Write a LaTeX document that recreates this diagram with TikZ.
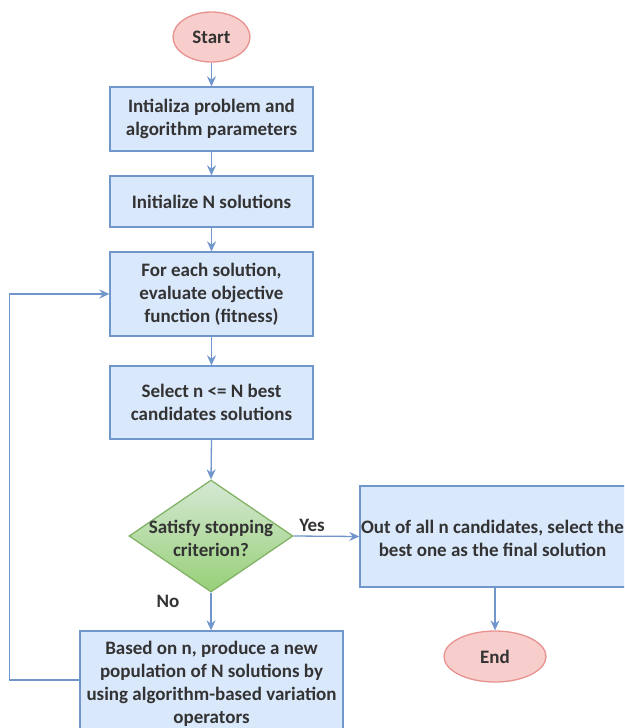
\documentclass[tikz,border=0pt]{standalone}
\usepackage{fontspec}
\setmainfont{Carlito}
\usetikzlibrary{shapes.geometric,arrows.meta}

\definecolor{boxfill}{HTML}{DAE8FC}
\definecolor{boxline}{HTML}{7096CC}
\definecolor{termfill}{HTML}{F8CECC}
\definecolor{termline}{HTML}{E8928F}
\definecolor{decline}{HTML}{82B366}
\definecolor{dectop}{HTML}{D5E8D4}
\definecolor{decbot}{HTML}{97D077}
\definecolor{inktext}{HTML}{333333}

\tikzset{
  txt/.style={font=\bfseries\fontsize{19}{23}\selectfont, text=inktext, align=center},
  procbox/.style={txt, rectangle, draw=boxline, fill=boxfill, line width=1.3pt,
                  inner sep=0pt, minimum width=203pt},
  term/.style={txt, ellipse, draw=termline, fill=termfill, line width=1.3pt, inner sep=0pt},
  flow/.style={draw=boxline, line width=1.3pt, -{Stealth[length=10pt,width=9pt]}},
  plain/.style={txt, inner sep=0pt}
}

\begin{document}
\begin{tikzpicture}[x=1pt,y=-1pt]
  \useasboundingbox (0,0) rectangle (624,728);
  \clip (0,0) rectangle (624,728);
  \fill[white] (0,0) rectangle (624,728);

  % terminals
  \node[term, minimum width=77pt, minimum height=50pt] (start) at (211.5,37) {Start};
  \node[term, minimum width=102pt, minimum height=51pt] (stop) at (495,656.5) {End};

  % main column of steps
  \node[procbox, minimum height=64pt] (init) at (211.5,119)
    {Intializa problem and\\algorithm parameters};
  \node[procbox, minimum height=51pt] (sols) at (211.5,201.5)
    {Initialize N solutions};
  \node[procbox, minimum height=84pt] (eval) at (211.5,294)
    {For each solution,\\evaluate objective\\function (fitness)};
  \node[procbox, minimum height=73pt] (select) at (211.5,402.5)
    {Select n <= N best\\candidates solutions};

  % decision
  \node[diamond, draw=decline, line width=1.3pt, top color=dectop, bottom color=decbot,
        inner sep=0pt, minimum width=164pt, minimum height=112pt] (check) at (211,536) {};
  \node[plain] (checktext) at (211,538) {Satisfy stopping\\criterion?};

  % final choice
  \node[rectangle, draw=boxline, fill=boxfill, line width=1.3pt, inner sep=0pt,
        minimum width=268pt, minimum height=101pt] (best) at (494,536.5) {};
  \node[plain] (besttext) at (492.5,538)
    {Out of all n candidates, select the\\best one as the final solution};

  % new population
  \node[procbox, minimum width=263pt, minimum height=105pt] (newpop) at (211.5,683.5)
    {Based on n, produce a new\\population of N solutions by\\using algorithm-based variation\\operators};

  % branch labels
  \node[plain] (yes) at (312,525) {Yes};
  \node[plain] (no) at (168,601) {No};

  % connectors
  \draw[flow] (start) -- (init);
  \draw[flow] (init) -- (sols);
  \draw[flow] (sols) -- (eval);
  \draw[flow] (eval) -- (select);
  \draw[flow] (select.south) -- (check.north);
  \draw[flow] (check.east) -- (best.west);
  \draw[flow] (check.south) -- (newpop.north -| check.south);
  \draw[flow] (best.south -| stop.north) -- (stop.north);
  \coordinate (loopstart) at (80,680);
  \coordinate (loopcorner) at (9.5,680);
  \draw[flow] (loopstart) -- (loopcorner) |- (eval.west);
\end{tikzpicture}
\end{document}
